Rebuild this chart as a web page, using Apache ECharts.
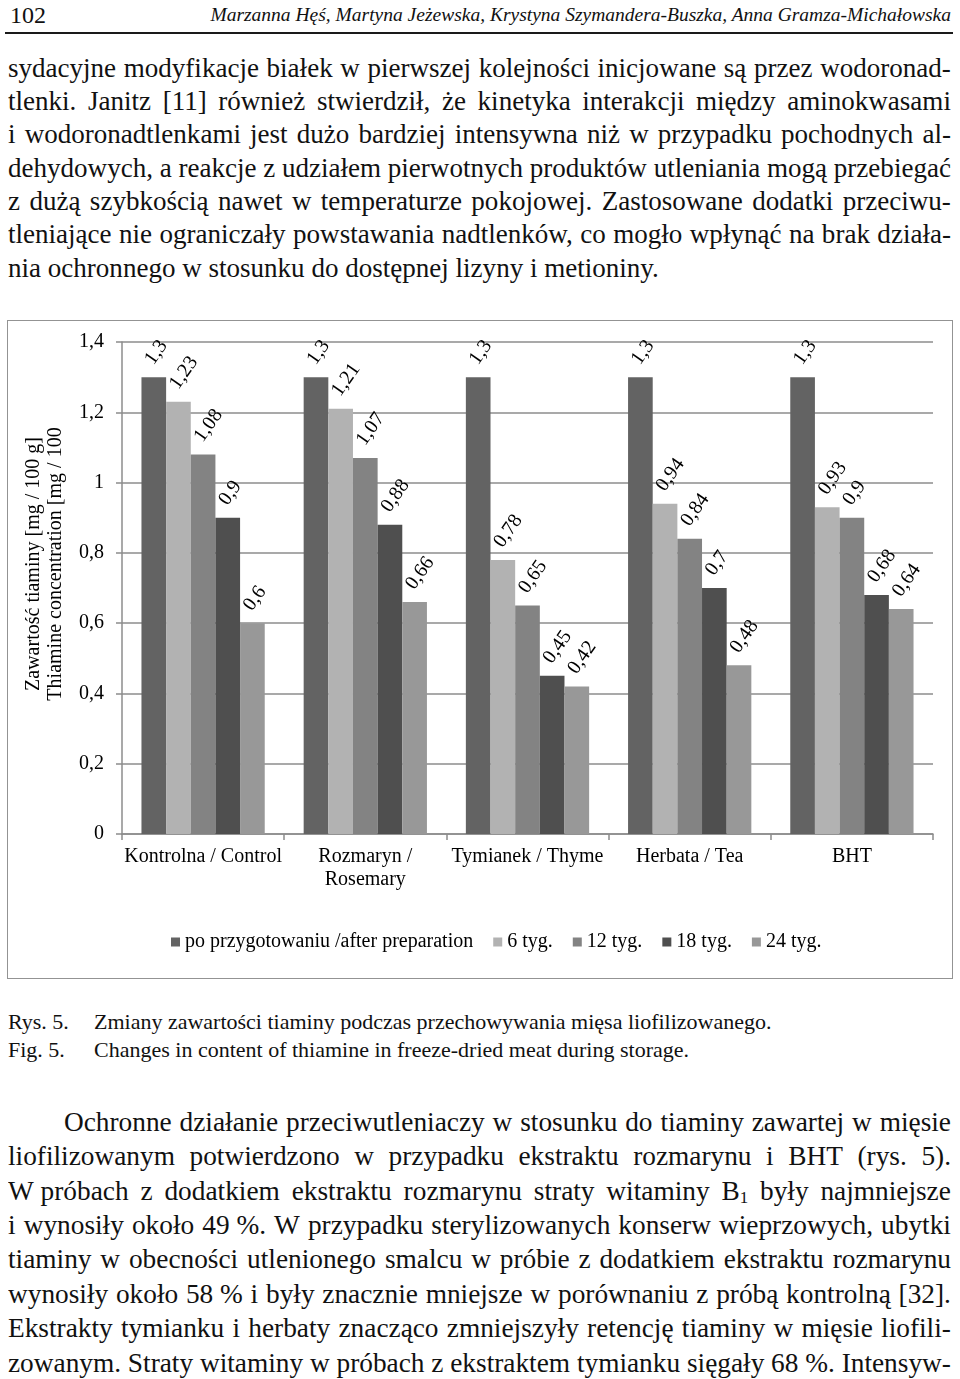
<!DOCTYPE html>
<html><head><meta charset="utf-8">
<script src="https://cdn.jsdelivr.net/npm/echarts@6/dist/echarts.min.js"></script>
<style>
html,body{margin:0;padding:0;background:#fff;}
body{width:960px;height:1379px;position:relative;overflow:hidden;font-family:'Liberation Serif','Times New Roman',serif;color:#111;}
.ln{position:absolute;white-space:nowrap;line-height:1;}
.just{display:flex;justify-content:space-between;align-items:baseline;}
sub{font-size:0.62em;vertical-align:-0.2em;line-height:0;}
#box{position:absolute;left:7px;top:320px;width:944px;height:657px;border:1.5px solid #939393;}
#chart{position:absolute;left:0;top:300px;width:960px;height:700px;}
#rule{position:absolute;left:5px;top:32px;width:948px;height:2px;background:#1a1a1a;}
</style></head><body>
<div id="rule"></div>
<div id="box"></div>
<div id="chart"></div>
<script>
// ---- chart data ----
const categories = ['Kontrolna / Control', 'Rozmaryn /\nRosemary', 'Tymianek / Thyme', 'Herbata / Tea', 'BHT'];
const seriesNames = ['po przygotowaniu /after preparation', '6 tyg.', '12 tyg.', '18 tyg.', '24 tyg.'];
const afterPreparation = [1.3, 1.3, 1.3, 1.3, 1.3];
const week6 = [1.23, 1.21, 0.78, 0.94, 0.93];
const week12 = [1.08, 1.07, 0.65, 0.84, 0.9];
const week18 = [0.9, 0.88, 0.45, 0.7, 0.68];
const week24 = [0.6, 0.66, 0.42, 0.48, 0.64];
const yMin = 0, yMax = 1.4, yStep = 0.2;
const yTitle = 'Zawartość tiaminy [mg / 100 g]\nThiamine concentration [mg / 100';

// ---- page text ----
const headerNumber = '102';
const headerAuthors = 'Marzanna Hęś, Martyna Jeżewska, Krystyna Szymandera-Buszka, Anna Gramza-Michałowska';
const topParagraph = [
  'sydacyjne modyfikacje białek w pierwszej kolejności inicjowane są przez wodoronad-',
  'tlenki. Janitz [11] również stwierdził, że kinetyka interakcji między aminokwasami',
  'i wodoronadtlenkami jest dużo bardziej intensywna niż w przypadku pochodnych al-',
  'dehydowych, a reakcje z udziałem pierwotnych produktów utleniania mogą przebiegać',
  'z dużą szybkością nawet w temperaturze pokojowej. Zastosowane dodatki przeciwu-',
  'tleniające nie ograniczały powstawania nadtlenków, co mogło wpłynąć na brak działa-',
  'nia ochronnego w stosunku do dostępnej lizyny i metioniny.'
];
const captionLabels = ['Rys. 5.', 'Fig. 5.'];
const captionTexts = ['Zmiany zawartości tiaminy podczas przechowywania mięsa liofilizowanego.',
                      'Changes in content of thiamine in freeze-dried meat during storage.'];
const bottomParagraph = [
  'Ochronne działanie przeciwutleniaczy w stosunku do tiaminy zawartej w mięsie',
  'liofilizowanym potwierdzono w przypadku ekstraktu rozmarynu i BHT (rys. 5).',
  'W\u00a0próbach z dodatkiem ekstraktu rozmarynu straty witaminy B<sub>1</sub> były najmniejsze',
  'i wynosiły około 49\u00a0%. W przypadku sterylizowanych konserw wieprzowych, ubytki',
  'tiaminy w obecności utlenionego smalcu w próbie z dodatkiem ekstraktu rozmarynu',
  'wynosiły około 58\u00a0% i były znacznie mniejsze w porównaniu z próbą kontrolną [32].',
  'Ekstrakty tymianku i herbaty znacząco zmniejszyły retencję tiaminy w mięsie liofili-',
  'zowanym. Straty witaminy w próbach z ekstraktem tymianku sięgały 68\u00a0%. Intensyw-'
];

// ---- text placement ----
const ASC = 0.891, DESC = 0.216;
function make(html, base, size, italic) {
  const d = document.createElement('div');
  d.className = 'ln';
  d.style.fontSize = size + 'px';
  if (italic) d.style.fontStyle = 'italic';
  d.style.top = (base - ((size - (ASC + DESC) * size) / 2 + ASC * size)) + 'px';
  d.innerHTML = html;
  document.body.appendChild(d);
  return {d, nat: d.getBoundingClientRect().width};
}
function finish(el, html, x, sx, justW) {
  const d = el.d;
  d.style.left = x + 'px';
  if (justW) {
    d.style.width = (justW / sx) + 'px';
    d.classList.add('just');
    d.innerHTML = html.split(' ').map(t => '<span>' + t + '</span>').join('');
  }
  if (sx !== 1) { d.style.transformOrigin = '0 0'; d.style.transform = 'scaleX(' + sx + ')'; }
}
// paragraph: lines justified except optional last; glyph scale chosen so tightest line fills the column
function paragraph(lines, baseline0, pitch, size, left, right, indent, lastFree) {
  const els = lines.map((t, i) => make(t, baseline0 + pitch * i, size, false));
  let sx = Infinity;
  els.forEach((e, i) => {
    if (lastFree && i === lines.length - 1) return;
    const x = i === 0 ? left + indent : left;
    sx = Math.min(sx, (right - x) / e.nat);
  });
  sx = Math.min(sx, 1.15);
  els.forEach((e, i) => {
    const x = i === 0 ? left + indent : left;
    const free = lastFree && i === lines.length - 1;
    finish(e, lines[i], x, sx, free ? 0 : right - x);
  });
}
const COL_L = 8, COL_R = 951;
finish(make(headerNumber, 23, 24), headerNumber, 10, 1, 0);
(function () {
  const e = make(headerAuthors, 21, 19.5, true);
  finish(e, headerAuthors, COL_R - e.nat, 1, 0);
})();
paragraph(topParagraph, 77, 33.3, 26.5, COL_L, COL_R, 0, true);
captionLabels.forEach((t, i) => finish(make(t, 1029 + 28 * i, 22), t, COL_L, 1, 0));
captionTexts.forEach((t, i) => finish(make(t, 1029 + 28 * i, 22), t, 94, 1, 0));
paragraph(bottomParagraph, 1131, 34.4, 26.5, COL_L, COL_R, 56, false);

// ---- chart ----
const colors = ['#636363', '#b2b2b2', '#838383', '#4f4f4f', '#989898'];
const FONT = 'Liberation Serif';
const comma = v => String(+Number(v).toFixed(2)).replace('.', ',');
const dataSets = [afterPreparation, week6, week12, week18, week24];
const chart = echarts.init(document.getElementById('chart'));
chart.setOption({
  animation: false,
  color: colors,
  grid: {left: 122, right: 27, top: 42, bottom: 166},
  legend: {
    left: 166, top: 627, icon: 'rect', itemWidth: 9, itemHeight: 9, itemGap: 20,
    textStyle: {fontFamily: FONT, fontSize: 20, color: '#000'},
    data: seriesNames
  },
  xAxis: {
    type: 'category', data: categories,
    axisLine: {lineStyle: {color: '#8c8c8c', width: 1.5}},
    axisTick: {show: true, length: 6, alignWithLabel: false, lineStyle: {color: '#8c8c8c', width: 1.5}},
    axisLabel: {interval: 0, margin: 11, fontFamily: FONT, fontSize: 20, lineHeight: 23, color: '#000'}
  },
  yAxis: {
    type: 'value', min: yMin, max: yMax, interval: yStep,
    name: yTitle, nameLocation: 'middle', nameGap: 55, nameRotate: 90,
    nameTextStyle: {fontFamily: FONT, fontSize: 20, lineHeight: 22, color: '#000', padding: [0, 0, 0, 48]},
    axisLine: {show: true, lineStyle: {color: '#8c8c8c', width: 1.5}},
    axisTick: {show: true, length: 6, lineStyle: {color: '#8c8c8c', width: 1.5}},
    axisLabel: {margin: 18, fontFamily: FONT, fontSize: 20, color: '#000', formatter: comma},
    splitLine: {lineStyle: {color: '#8c8c8c', width: 1.5}}
  },
  series: seriesNames.map((n, i) => ({
    name: n, type: 'bar', data: dataSets[i],
    barGap: '0%', barCategoryGap: '24%',
    label: {
      show: true, position: 'top', distance: 21, rotate: 55,
      align: 'left', verticalAlign: 'middle', offset: [-8, 0],
      fontFamily: FONT, fontSize: 20, color: '#000', formatter: p => comma(p.value)
    }
  }))
});
</script>
</body></html>
